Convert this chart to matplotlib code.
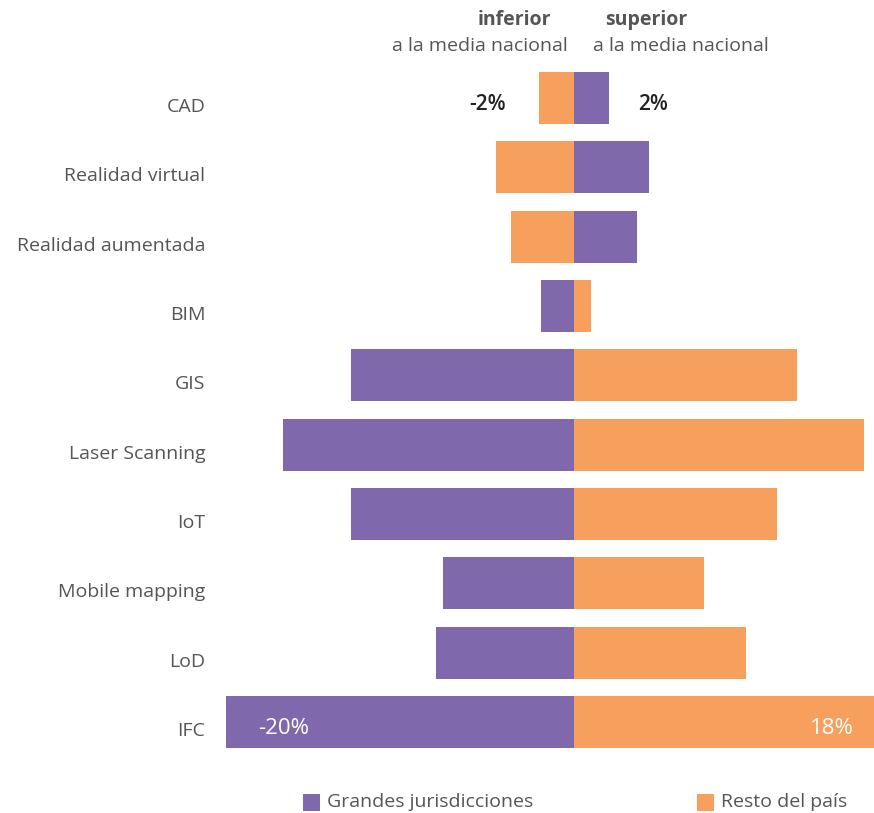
import matplotlib
matplotlib.use("Agg")
import matplotlib.pyplot as plt
from matplotlib.patches import Rectangle
from matplotlib.transforms import ScaledTranslation

plt.rcParams['font.family'] = ['Open Sans', 'DejaVu Sans']

categories = ["CAD", "Realidad virtual", "Realidad aumentada", "BIM", "GIS",
              "Laser Scanning", "IoT", "Mobile mapping", "LoD", "IFC"]
grandes = [2, 4.3, 3.6, -1.9, -12.8, -16.7, -12.8, -7.5, -7.9, -20]
resto = [-2, -4.5, -3.6, 1.0, 12.8, 16.7, 11.7, 7.5, 9.9, 18]
series_names = ["Grandes jurisdicciones", "Resto del país"]

PURPLE = "#7F69AC"
ORANGE = "#F79F5C"
LABEL = "#555555"
FS = 14

W, H = 874, 813
fig = plt.figure(figsize=(W / 100, H / 100), dpi=100)

row = 69.3
top = 98 - row / 2
bottom = 722 + row / 2
# the axes runs past the right edge so the largest bar is cut by the frame
ax = fig.add_axes([226 / W, 1 - bottom / H, 661 / W, (bottom - top) / H])

y = list(range(len(categories)))
ax.barh(y, grandes, height=0.75, color=PURPLE, linewidth=0)
ax.barh(y, resto, height=0.75, color=ORANGE, linewidth=0)

ax.set_xlim(-20, 18)
ax.set_ylim(len(categories) - 0.5, -0.5)
ax.set_yticks(y)
ax.set_yticklabels(categories, fontsize=FS, color=LABEL)
ax.tick_params(axis='y', length=0, pad=15)
for lab in ax.get_yticklabels():
    lab.set_transform(lab.get_transform() + ScaledTranslation(0, -5 / 72, fig.dpi_scale_trans))
ax.set_xticks([])
for s in ax.spines.values():
    s.set_visible(False)

# value labels on the first and last rows
ax.annotate(f"{resto[0]:.0f}%", xy=(min(resto[0], grandes[0]), 0), xytext=(-24, -5),
            textcoords="offset points", ha="right", va="center",
            fontsize=FS + 1, color="#222222", fontweight="semibold")
ax.annotate(f"{grandes[0]:.0f}%", xy=(max(resto[0], grandes[0]), 0), xytext=(21, -5),
            textcoords="offset points", ha="left", va="center",
            fontsize=FS + 1, color="#222222", fontweight="semibold")
last = len(categories) - 1
ax.annotate(f"{grandes[last]:.0f}%", xy=(grandes[last], last), xytext=(23, -5),
            textcoords="offset points", ha="left", va="center",
            fontsize=FS + 2, color="white")
ax.annotate(f"{resto[last]:.0f}%", xy=(resto[last], last), xytext=(-24, -5),
            textcoords="offset points", ha="right", va="center",
            fontsize=FS + 2, color="white")

# header
fig.text(514 / W, 1 - 20 / H, "inferior", ha="center", va="center",
         fontsize=FS, fontweight="bold", color=LABEL)
fig.text(480 / W, 1 - 46 / H, "a la media nacional", ha="center", va="center",
         fontsize=FS, color=LABEL)
fig.text(646 / W, 1 - 20 / H, "superior", ha="center", va="center",
         fontsize=FS, fontweight="bold", color=LABEL)
fig.text(681 / W, 1 - 46 / H, "a la media nacional", ha="center", va="center",
         fontsize=FS, color=LABEL)

# legend
for x0, name, col in [(303, series_names[0], PURPLE), (697, series_names[1], ORANGE)]:
    fig.patches.append(Rectangle((x0 / W, 1 - 811 / H), 17 / W, 17 / H,
                                 transform=fig.transFigure, color=col, linewidth=0))
    fig.text((x0 + 24) / W, 1 - 802 / H, name, ha="left", va="center",
             fontsize=FS, color=LABEL)

fig.savefig("out.png", dpi=100, facecolor="white")
